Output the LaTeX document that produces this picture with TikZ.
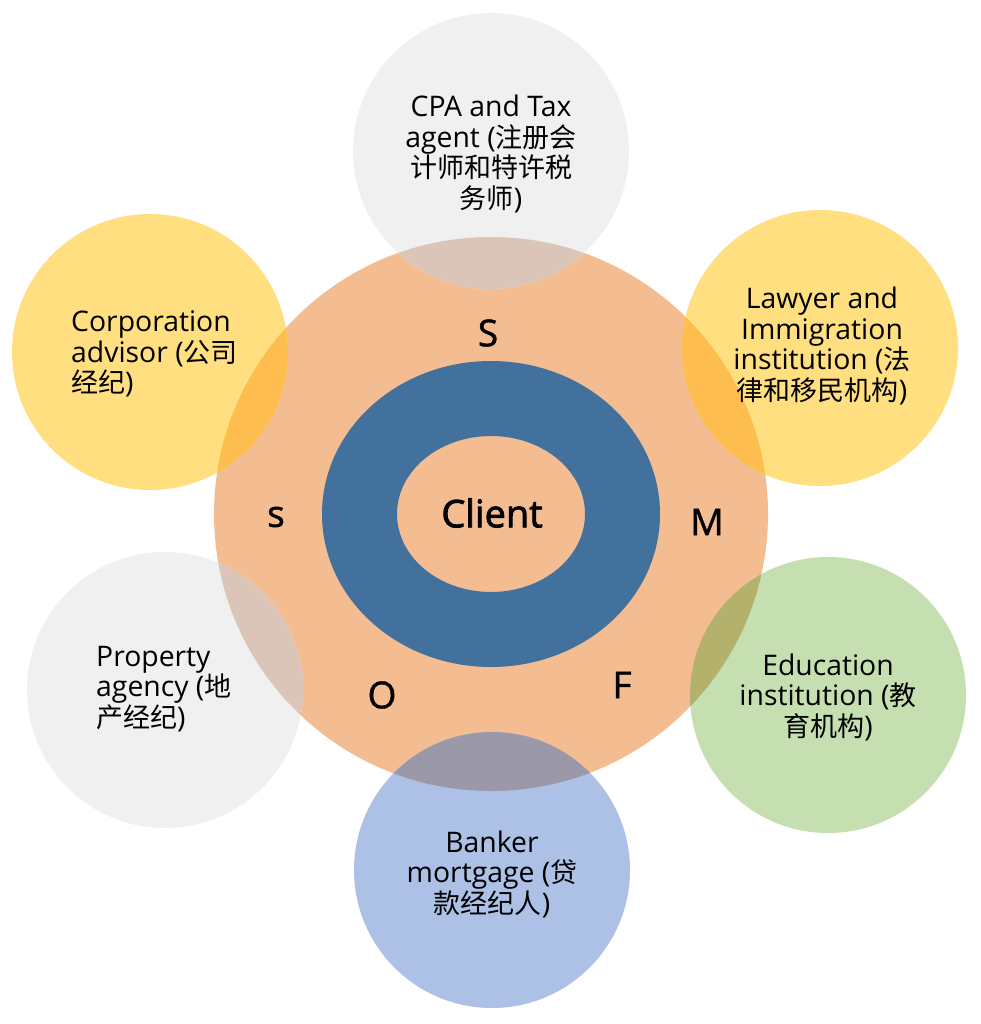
\documentclass[tikz,border=0pt]{standalone}
\usepackage{fontspec}
\setmainfont{Open Sans}[Scale=1.05]
\newfontfamily\semib{Open Sans}[FakeBold=2.2]
\newfontfamily\medf{Open Sans}[FakeBold=1.2]
\newfontfamily\cjk{Noto Sans CJK SC}
\newcommand\zh[1]{{\cjk #1}}
\definecolor{cOrange}{HTML}{F4BC91}
\definecolor{cRing}{HTML}{41719C}
\definecolor{cGray}{HTML}{F0F0F0}
\definecolor{cGrayOv}{HTML}{DBC5B8}
\definecolor{cYellow}{HTML}{FFDF80}
\definecolor{cYellowOv}{HTML}{FDBE4F}
\definecolor{cGreen}{HTML}{C5DFB1}
\definecolor{cGreenOv}{HTML}{B3B16B}
\definecolor{cLBlue}{HTML}{ACC1E5}
\definecolor{cLBlueOv}{HTML}{9A98A9}
\tikzset{
  outer/.style={circle, minimum size=276pt, inner sep=0pt, draw=none},
  lbl/.style={font=\fontsize{27}{30.5}\selectfont, inner sep=0pt, align=center, text=black},
  lbll/.style={font=\fontsize{27}{30.5}\selectfont, inner sep=0pt, align=left, text=black, anchor=west},
  letter/.style={font=\medf\fontsize{37}{40}\selectfont, inner sep=0pt, text=black}
}
\begin{document}
\begin{tikzpicture}[x=1pt,y=-1pt]
\useasboundingbox (0,0) rectangle (980,1024);
% main circle
\node[circle, minimum size=554pt, inner sep=0pt, fill=cOrange] (main) at (491,514) {};
% outer circles
\node[outer, fill=cGray]   (cpa)  at (491,151) {};
\node[outer, fill=cYellow] (law)  at (820,348) {};
\node[outer, fill=cGreen]  (edu)  at (828,695) {};
\node[outer, fill=cLBlue]  (bank) at (492,870) {};
\node[outer, fill=cGray]   (prop) at (165,690) {};
\node[outer, fill=cYellow] (corp) at (150,352) {};
% overlaps
\begin{scope}
  \clip (491,514) circle[radius=277];
  \fill[cGrayOv]   (491,151) circle[radius=138];
  \fill[cYellowOv] (820,348) circle[radius=138];
  \fill[cGreenOv]  (828,695) circle[radius=138];
  \fill[cLBlueOv]  (492,870) circle[radius=138];
  \fill[cGrayOv]   (165,690) circle[radius=138];
  \fill[cYellowOv] (150,352) circle[radius=138];
\end{scope}
% ring
\fill[cRing, even odd rule] (491,514) ellipse[x radius=169, y radius=153]
  (491,514) ellipse[x radius=94, y radius=78];
\node[font=\semib\fontsize{38}{42}\selectfont, inner sep=0pt] (client) at (492,513) {Client};
% letters
\node[letter] (lS) at (488,333) {S};
\node[letter] (lM) at (707,522) {M};
\node[letter] (lF) at (622,685) {F};
\node[letter] (lO) at (382,695) {O};
\node[letter] (ls) at (276,517) {s};
% labels
\node[lbl] (tcpa) at (491,154) {CPA and Tax\\agent (\zh{注册会}\\\zh{计师和特许税}\\\zh{务师})};
\node[lbl] (tlaw) at (822,346) {Lawyer and\\Immigration\\institution (\zh{法}\\\zh{律和移民机构})};
\node[lbll] (tcorp) at (71,354) {Corporation\\advisor (\zh{公司}\\\zh{经纪})};
\node[lbll] (tprop) at (96,689) {Property\\agency (\zh{地}\\\zh{产经纪})};
\node[lbl] (tedu) at (828,697) {Education\\institution (\zh{教}\\\zh{育机构})};
\node[lbl] (tbank) at (492,874) {Banker\\mortgage (\zh{贷}\\\zh{款经纪人})};
\end{tikzpicture}
\end{document}
